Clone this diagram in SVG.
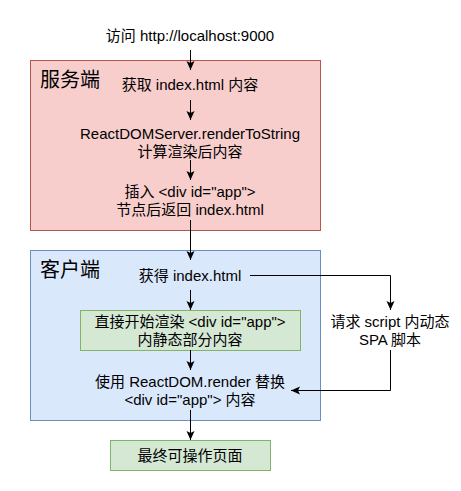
<svg xmlns="http://www.w3.org/2000/svg" width="461" height="491" viewBox="0 0 461 491">
<style>
text{font-family:"Liberation Sans","Noto Sans CJK SC",sans-serif;font-size:15px;fill:#000;text-anchor:middle}
.big{font-size:20px;text-anchor:start}
.ln{fill:none;stroke:#000;stroke-width:1}
</style>
<defs>
<marker id="ar" markerUnits="userSpaceOnUse" viewBox="-10 -5 11 10" markerWidth="11" markerHeight="10" refX="0" refY="0" orient="auto">
<path d="M0,0 L-9,-4 L-7,0 L-9,4 Z" fill="#000"/>
</marker>
</defs>
<rect width="461" height="491" fill="#fff"/>
<g id="server">
<rect x="30.5" y="60.5" width="290" height="170" fill="#f8cecc" stroke="#b85450"/>
<text class="big" x="40" y="87">服务端</text>
</g>
<g id="client">
<rect x="30.5" y="250.5" width="290" height="170" fill="#dae8fc" stroke="#6c8ebf"/>
<text class="big" x="40" y="277">客户端</text>
</g>
<g id="visit"><text x="190" y="41">访问 http://localhost:9000</text></g>
<g id="fetch"><text x="190" y="90">获取 index.html 内容</text></g>
<g id="render"><text x="190" y="139">ReactDOMServer.renderToString</text><text x="190" y="157">计算渲染后内容</text></g>
<g id="insert"><text x="190" y="197">插入 &lt;div id="app"&gt;</text><text x="190" y="215">节点后返回 index.html</text></g>
<g id="got"><text x="190" y="281">获得 index.html</text></g>
<g id="static">
<rect x="80.5" y="310.5" width="220" height="40" fill="#d5e8d4" stroke="#82b366"/>
<text x="190" y="326.5">直接开始渲染 &lt;div id="app"&gt;</text><text x="190" y="344.5">内静态部分内容</text>
</g>
<g id="script"><text x="390" y="326.5">请求 script 内动态</text><text x="390" y="344.5">SPA 脚本</text></g>
<g id="replace"><text x="190" y="386.5">使用 ReactDOM.render 替换</text><text x="190" y="404.5">&lt;div id="app"&gt; 内容</text></g>
<g id="final">
<rect x="110.5" y="440.5" width="160" height="30" fill="#d5e8d4" stroke="#82b366"/>
<text x="190" y="460.5">最终可操作页面</text>
</g>
<g id="connectors">
<path class="ln" d="M190.5,50 V70" marker-end="url(#ar)"/>
<path class="ln" d="M190.5,100 V120" marker-end="url(#ar)"/>
<path class="ln" d="M190.5,160 V180" marker-end="url(#ar)"/>
<path class="ln" d="M190.5,220 V260" marker-end="url(#ar)"/>
<path class="ln" d="M190.5,290 V310" marker-end="url(#ar)"/>
<path class="ln" d="M190.5,350 V370" marker-end="url(#ar)"/>
<path class="ln" d="M190.5,410 V440" marker-end="url(#ar)"/>
<path class="ln" d="M250,275.5 H390.5 V310" marker-end="url(#ar)"/>
<path class="ln" d="M390.5,350 V390.5 H291" marker-end="url(#ar)"/>
</g>
</svg>
